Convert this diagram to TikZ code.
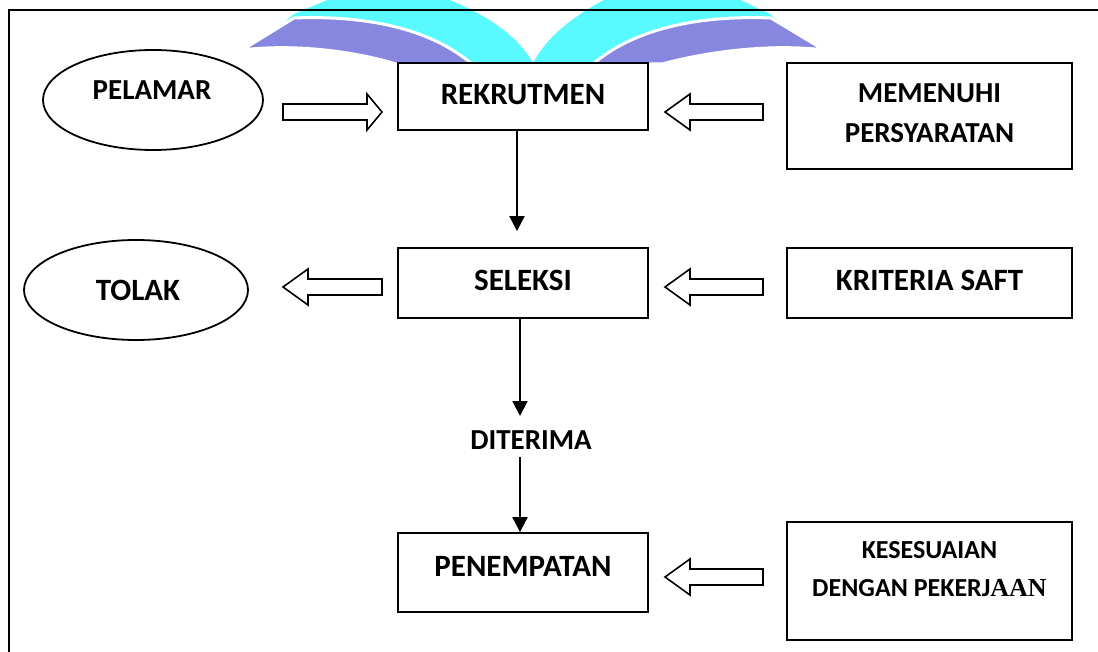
\documentclass[tikz,border=0pt]{standalone}
\usepackage{fontspec}
\setmainfont{Carlito}
\newfontfamily\serifbold{Liberation Serif}
\usetikzlibrary{arrows.meta,shapes.geometric,calc}

\definecolor{wmcyan}{RGB}{88,250,255}
\definecolor{wmpurple}{RGB}{135,135,224}

% block arrow: tail x, head base x, tip x, centre y
\newcommand\blockarrow[4]{%
  \draw[hollowarrow] (#1,#4-8) -- (#2,#4-8) -- (#2,#4-18) -- (#3,#4)
    -- (#2,#4+18) -- (#2,#4+8) -- (#1,#4+8) -- cycle;}

\begin{document}
\begin{tikzpicture}[x=1pt,y=-1pt,
  stage/.style={draw, line width=1.8pt, fill=white, inner sep=0pt},
  oval/.style={ellipse, draw, line width=1.8pt, fill=white, inner sep=0pt},
  big/.style={font=\bfseries\fontsize{31}{36}\selectfont, inner sep=0pt},
  mid/.style={font=\bfseries\fontsize{29}{34}\selectfont, inner sep=0pt},
  small/.style={font=\bfseries\fontsize{26}{30}\selectfont, inner sep=0pt},
  hollowarrow/.style={draw, line width=1.6pt, fill=white, line join=miter},
  vline/.style={line width=2pt, -{Triangle[width=15pt,length=15pt]}}]

\useasboundingbox (0,0) rectangle (1098,652);

% logo in the page background
\fill[wmcyan] (332,-2) -- (445,-2) .. controls (487,15) and (517,35) .. (533,63)
  -- (400,63) -- (268,36) -- (294,14) -- cycle;
\fill[wmcyan] (736,-2) -- (608,-2) .. controls (575,15) and (548,35) .. (533,63)
  -- (664,63) -- (796,36) -- (770,14) -- cycle;
\filldraw[fill=wmpurple, draw=white, line width=3pt]
  (242,50) -- (294,18) .. controls (370,15) and (432,30) .. (472,64)
  -- (396,64) .. controls (350,50) and (290,44) .. (242,50) -- cycle;
\filldraw[fill=wmpurple, draw=white, line width=3pt]
  (824,50) -- (771,18) .. controls (695,15) and (633,30) .. (593,64)
  -- (662,64) .. controls (714,50) and (776,44) .. (824,50) -- cycle;

% page frame
\draw[line width=2pt] (9,654) -- (9,10) -- (1100,10);

% stages
\node[stage, minimum width=250pt, minimum height=67pt]  (rek) at (523,96.5) {};
\node[stage, minimum width=285pt, minimum height=106pt] (mem) at (929.5,116) {};
\node[stage, minimum width=250pt, minimum height=70pt]  (sel) at (523,283) {};
\node[stage, minimum width=285pt, minimum height=70pt]  (kri) at (929.5,283) {};
\node[stage, minimum width=250pt, minimum height=79pt]  (pen) at (523,572.5) {};
\node[stage, minimum width=285pt, minimum height=118pt] (kes) at (929.5,581) {};
\node[oval, minimum width=220pt, minimum height=100pt]  (pel) at (153,100) {};
\node[oval, minimum width=224pt, minimum height=100pt]  (tol) at (136,290) {};

% labels
\node[mid] (tpel) at (152,90) {PELAMAR};
\node[big] (trek) at (523,95) {REKRUTMEN};
\node[mid] (tmem1) at (929.5,93) {MEMENUHI};
\node[mid] (tmem2) at (929.5,133) {PERSYARATAN};
\node[big] (ttol) at (138,290) {TOLAK};
\node[big] (tsel) at (523,280) {SELEKSI};
\node[big] (tkri) at (929.5,280) {KRITERIA SAFT};
\node[mid] (tdit) at (531,440) {DITERIMA};
\node[big] (tpen) at (523,566) {PENEMPATAN};
\node[small] (tkes1) at (929.5,550) {KESESUAIAN};
\node[small] (tkes2) at (929.5,588) {DENGAN PEKERJ{\serifbold AAN}};

% hollow arrows between the columns
\blockarrow{283}{367}{382}{112}
\blockarrow{763}{690}{665}{112}
\blockarrow{382}{308}{283}{287}
\blockarrow{763}{690}{665}{287}
\blockarrow{763}{690}{665}{577}

% main flow
\draw[vline, shorten >=16pt] ([xshift=-6pt]rek.south) -- ([xshift=-6pt]sel.north);
\coordinate (acc1) at (520,416);
\coordinate (acc2) at (520,457);
\draw[vline] (sel.south -| acc1) -- (acc1);
\draw[vline] (acc2) -- (pen.north -| acc2);
\end{tikzpicture}
\end{document}
